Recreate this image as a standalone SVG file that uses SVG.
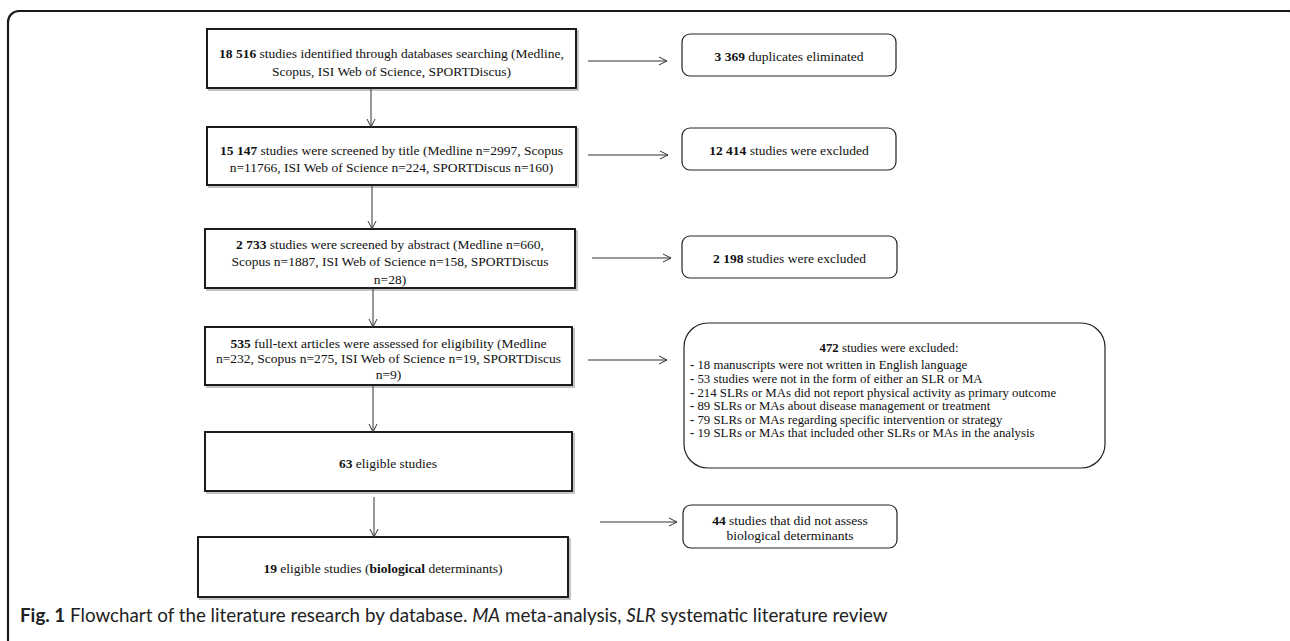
<svg xmlns="http://www.w3.org/2000/svg" width="1290" height="641" viewBox="0 0 1290 641" xml:space="preserve">
<style>
.frame{fill:none;stroke:#1a1a1a;stroke-width:2.2}
.box{fill:#fff;stroke:#111;stroke-width:1.9}
.shadow{fill:none;stroke:#c4c4c4;stroke-width:2}
.rbox{fill:#fff;stroke:#222;stroke-width:1.2}
.t{font-family:"Liberation Serif","Times New Roman",serif;font-size:13.5px;fill:#111}
.s{font-size:12.8px}
.b{font-weight:bold}
.cap{font-family:Lato,"Open Sans",sans-serif;font-size:18.8px;fill:#222}
.conn line{stroke:#333;stroke-width:1;marker-end:url(#ah)}
</style>
<defs>
<marker id="ah" markerWidth="10" markerHeight="10" refX="9" refY="5" orient="auto" markerUnits="userSpaceOnUse"><path d="M1,1 L9,5 L1,9" fill="none" stroke="#333" stroke-width="1"/></marker>
</defs>
<rect x="0" y="0" width="1290" height="641" fill="#fff"/>
<rect class="frame" x="8" y="11" width="1292" height="700" rx="11"/>
<g id="n1"><rect class="shadow" x="209" y="31" width="369" height="59"/><rect class="box" x="207" y="29" width="369" height="59"/>
<text class="t" x="391.5" y="57.5" text-anchor="middle"><tspan class="b">18 516</tspan> studies identified  through  databases searching (Medline,</text>
<text class="t" x="391.5" y="75.5" text-anchor="middle">Scopus, ISI Web of Science, SPORTDiscus)</text></g>
<g id="n2"><rect class="shadow" x="209" y="129" width="369" height="58"/><rect class="box" x="207" y="127" width="369" height="58"/>
<text class="t" x="391.5" y="154.5" text-anchor="middle"><tspan class="b">15 147</tspan> studies were screened by title (Medline  n=2997,  Scopus</text>
<text class="t" x="391.5" y="171.5" text-anchor="middle">n=11766,  ISI Web of Science n=224,  SPORTDiscus n=160)</text></g>
<g id="n3"><rect class="shadow" x="207" y="231" width="370" height="59"/><rect class="box" x="205" y="229" width="370" height="59"/>
<text class="t" x="390" y="248.5" text-anchor="middle"><tspan class="b">2 733</tspan> studies were screened by abstract (Medline  n=660,</text>
<text class="t" x="390" y="266" text-anchor="middle">Scopus n=1887,  ISI Web of Science n=158,  SPORTDiscus</text>
<text class="t" x="390" y="283.5" text-anchor="middle">n=28)</text></g>
<g id="n4"><rect class="shadow" x="207" y="329" width="367" height="58"/><rect class="box" x="205" y="327" width="367" height="58"/>
<text class="t" x="388.5" y="347.5" text-anchor="middle"><tspan class="b">535</tspan> full<tspan class="b">-</tspan>text  articles were assessed for eligibility   (Medline</text>
<text class="t" x="388.5" y="363" text-anchor="middle">n=232,  Scopus n=275,  ISI Web of Science n=19,  SPORTDiscus</text>
<text class="t" x="388.5" y="378.5" text-anchor="middle">n=9)</text></g>
<g id="n5"><rect class="shadow" x="207" y="434" width="367" height="59"/><rect class="box" x="205" y="432" width="367" height="59"/>
<text class="t" x="388" y="467.5" text-anchor="middle"><tspan class="b">63</tspan> eligible  studies</text></g>
<g id="n6"><rect class="shadow" x="200" y="539" width="370" height="60"/><rect class="box" x="198" y="537" width="370" height="60"/>
<text class="t" x="383" y="572.5" text-anchor="middle"><tspan class="b">19</tspan> eligible  studies (<tspan class="b">biological</tspan> determinants)</text></g>
<g id="r1"><rect class="rbox" x="682" y="34" width="214" height="42" rx="8"/>
<text class="t" x="789" y="60.5" text-anchor="middle"><tspan class="b">3 369</tspan> duplicates eliminated</text></g>
<g id="r2"><rect class="rbox" x="682" y="128" width="214" height="42" rx="8"/>
<text class="t" x="789" y="154.5" text-anchor="middle"><tspan class="b">12 414</tspan> studies were excluded</text></g>
<g id="r3"><rect class="rbox" x="682" y="236" width="215" height="42" rx="8"/>
<text class="t" x="789.5" y="262.5" text-anchor="middle"><tspan class="b">2 198</tspan> studies were excluded</text></g>
<g id="r4"><rect class="rbox" x="684" y="323" width="421" height="145" rx="24"/>
<text class="t s" x="889" y="352.3" text-anchor="middle"><tspan class="b">472</tspan>  studies were excluded:</text>
<text class="t s" x="690" y="369.3"><tspan class="b">-</tspan> 18 manuscripts were not written in English  language</text>
<text class="t s" x="690" y="382.9"><tspan class="b">-</tspan> 53 studies were not in the form of either an SLR or MA</text>
<text class="t s" x="690" y="396.5"><tspan class="b">-</tspan> 214 SLRs or MAs did not report physical activity as primary outcome</text>
<text class="t s" x="690" y="410.1"><tspan class="b">-</tspan> 89 SLRs or MAs about disease management or treatment</text>
<text class="t s" x="690" y="423.7"><tspan class="b">-</tspan> 79 SLRs or MAs regarding specific intervention  or strategy</text>
<text class="t s" x="690" y="437.3"><tspan class="b">-</tspan> 19 SLRs or MAs that included  other SLRs or MAs in the analysis</text></g>
<g id="r5"><rect class="rbox" x="683" y="505" width="214" height="43" rx="8"/>
<text class="t" x="790" y="524.5" text-anchor="middle"><tspan class="b">44</tspan> studies that did  not assess</text>
<text class="t" x="790" y="539.5" text-anchor="middle">biological  determinants</text></g>
<g id="connectors" class="conn">
<line x1="371" y1="88" x2="371" y2="127"/>
<line x1="372" y1="185" x2="372" y2="229"/>
<line x1="373" y1="288" x2="373" y2="327"/>
<line x1="373" y1="385" x2="373" y2="432"/>
<line x1="374" y1="497" x2="374" y2="537"/>
<line x1="588" y1="61" x2="667" y2="61"/>
<line x1="588" y1="155" x2="668" y2="155"/>
<line x1="592" y1="258" x2="671" y2="258"/>
<line x1="588" y1="360" x2="667" y2="360"/>
<line x1="600" y1="522" x2="677" y2="522"/>
</g>
<text class="cap" x="20" y="622"><tspan font-weight="bold">Fig. 1</tspan> Flowchart of the literature research by database. <tspan font-style="italic">MA</tspan> meta-analysis, <tspan font-style="italic">SLR</tspan> systematic literature review</text>
</svg>
